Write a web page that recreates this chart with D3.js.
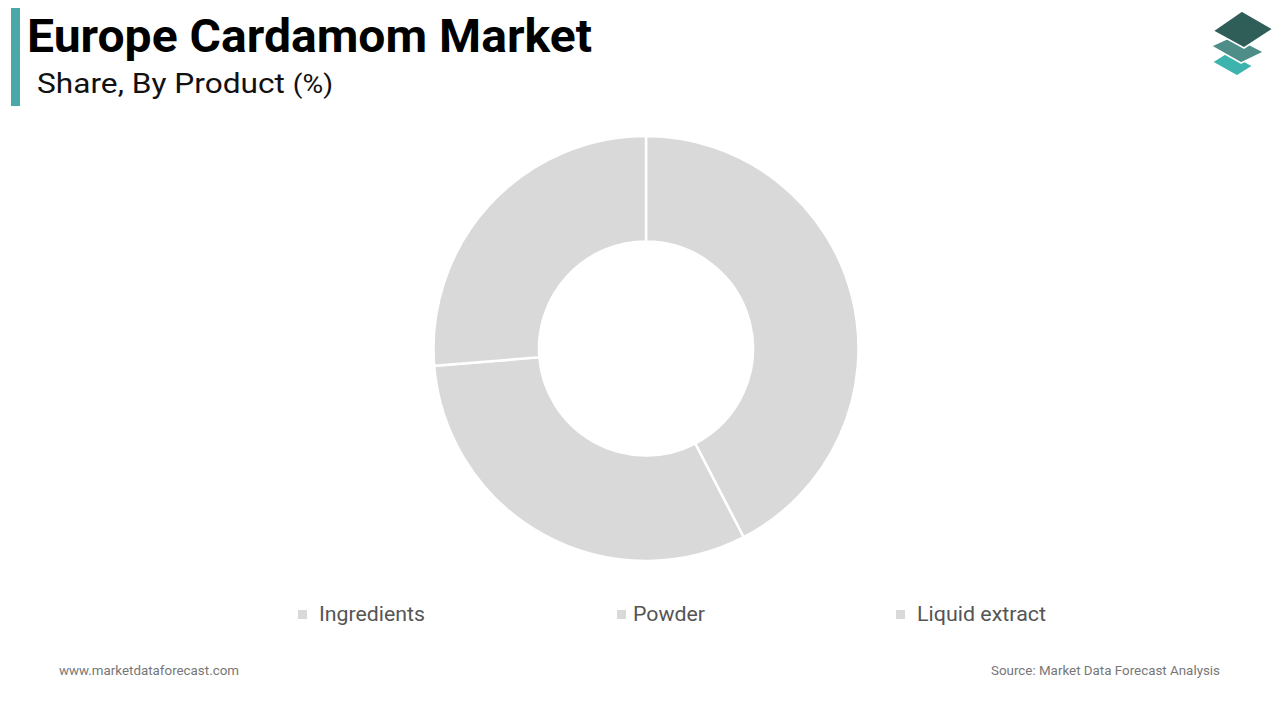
<!DOCTYPE html>
<html><head><meta charset="utf-8">
<script src="https://cdn.jsdelivr.net/npm/d3@7/dist/d3.min.js"></script>
<style>body{margin:0;background:#fff;font-family:Roboto,sans-serif}</style>
</head><body><svg id="c" width="1280" height="720"></svg>
<script>
const categories = ["Ingredients", "Powder", "Liquid extract"];
const values = [42.4, 31.3, 26.3];
const colors = ["#d9d9d9", "#d9d9d9", "#d9d9d9"];

const svg = d3.select("#c");
svg.append("rect").attr("x",11).attr("y",8).attr("width",9).attr("height",98).attr("fill","#4aa9a6");
svg.append("text").attr("x",27).attr("y",52).attr("font-size",46).attr("font-weight",700).attr("fill","#000")
  .attr("textLength",565).attr("lengthAdjust","spacingAndGlyphs").text("Europe Cardamom Market");
const st = svg.append("text").attr("x",37).attr("y",93).attr("font-size",28).attr("fill","#111")
  .attr("textLength",296).attr("lengthAdjust","spacingAndGlyphs");
st.append("tspan").text("Share, By Product ");
st.append("tspan").attr("font-size",25).text("(%)");

// logo
const logo = svg.append("g");
const diamonds=[
  {p:[[1228,52],[1253,66],[1237,76],[1212,62]],c:"#3db3ad"},
  {p:[[1233,36],[1264,52],[1241,63],[1211,46]],c:"#4f8e88"},
  {p:[[1242,11],[1273,29],[1244,48],[1213,31]],c:"#2f5e59"}];
diamonds.forEach(d=>{
  logo.append("path").attr("d","M"+d.p.map(q=>q.join(",")).join("L")+"Z")
   .attr("fill",d.c).attr("stroke","#fff").attr("stroke-width",1.5).attr("stroke-linejoin","round");
});

const cx=646, cy=348.5;
const pie = d3.pie().sort(null).value(d=>d)(values);
const arc = d3.arc().innerRadius(107).outerRadius(212.5);
svg.append("g").attr("transform",`translate(${cx},${cy})`).selectAll("path").data(pie).join("path")
  .attr("d",arc).attr("fill",(d,i)=>colors[i]).attr("stroke","#fff").attr("stroke-width",2.5);

const sx=[298,617,896], tx=[319,633,917], tw=[106,72,129];
const lg = svg.append("g");
categories.forEach((c,i)=>{
  lg.append("rect").attr("x",sx[i]).attr("y",610).attr("width",9).attr("height",9).attr("fill",colors[i]);
  lg.append("text").attr("x",tx[i]).attr("y",621).attr("font-size",21).attr("fill","#555")
    .attr("textLength",tw[i]).attr("lengthAdjust","spacingAndGlyphs").text(c);
});

svg.append("text").attr("x",59).attr("y",675).attr("font-size",13).attr("fill","#777")
  .attr("textLength",180).attr("lengthAdjust","spacingAndGlyphs").text("www.marketdataforecast.com");
svg.append("text").attr("x",991).attr("y",675).attr("font-size",13).attr("fill","#777")
  .attr("textLength",229).attr("lengthAdjust","spacingAndGlyphs").text("Source: Market Data Forecast Analysis");
</script></body></html>
